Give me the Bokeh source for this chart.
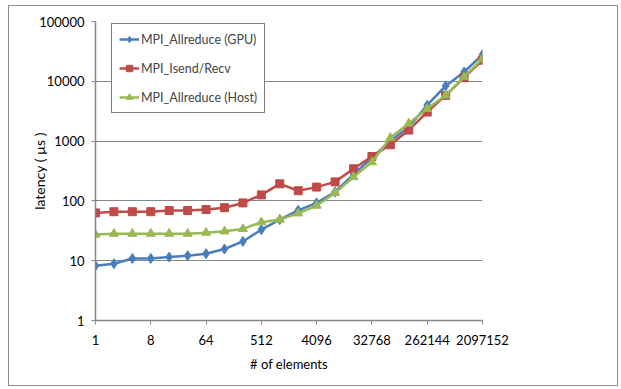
from bokeh.plotting import figure
from bokeh.embed import file_html
from bokeh.resources import INLINE
from bokeh.models import FixedTicker, Legend, LegendItem, ColumnDataSource

elements = [1, 2, 4, 8, 16, 32, 64, 128, 256, 512, 1024, 2048, 4096, 8192,
            16384, 32768, 65536, 131072, 262144, 524288, 1048576, 2097152]
gpu = [8.2, 8.9, 10.9, 10.9, 11.5, 12.1, 13.1, 15.7, 21, 33, 48.7, 69.5, 92.5, 141,
       277, 526, 1000, 1718, 3980, 8380, 14300, 28000]
isend = [63, 66, 66, 66, 69, 69, 71.6, 77, 92.5, 126, 193, 148, 170, 208,
         344, 553, 870, 1528, 3060, 5820, 11500, 22500]
host = [27.3, 28.3, 28.3, 28.3, 28.3, 28.3, 29.4, 31, 34, 44, 48.7, 62, 83.6, 136,
        251, 445, 1137, 1977, 3470, 5820, 11800, 24000]
x_ticks = [1, 8, 64, 512, 4096, 32768, 262144, 2097152]
y_ticks = [1, 10, 100, 1000, 10000, 100000]

FONT = "Lato"
GRAY = "#868686"

p = figure(width=610, height=381, x_axis_type="log", y_axis_type="log",
           x_range=(1, 2097152), y_range=(1, 100000),
           output_backend="svg", toolbar_location=None,
           min_border_left=86, min_border_right=137, min_border_top=15, min_border_bottom=67)
p.styles = {"border": "1px solid #8c8c8c", "margin-left": "8px", "margin-top": "5px"}
p.outline_line_color = None
p.background_fill_color = "white"
p.border_fill_color = "white"

p.xaxis.ticker = FixedTicker(ticks=x_ticks)
p.yaxis.ticker = FixedTicker(ticks=y_ticks)
p.xaxis.major_label_overrides = {t: str(t) for t in x_ticks}
p.yaxis.major_label_overrides = {t: str(t) for t in y_ticks}
for ax in (p.xaxis[0], p.yaxis[0]):
    ax.axis_line_color = GRAY
    ax.axis_line_width = 1.5
    ax.major_tick_line_color = GRAY
    ax.major_tick_in = 0
    ax.major_tick_out = 4
    ax.minor_tick_line_color = None
    ax.major_label_text_font = FONT
    ax.major_label_text_font_size = "13px"
    ax.major_label_text_color = "black"
    ax.axis_label_text_font = FONT
    ax.axis_label_text_font_style = "normal"
    ax.axis_label_text_color = "black"
p.xaxis.axis_label = "# of elements"
p.yaxis.axis_label = "latency ( µs )"
p.xaxis.axis_label_text_font_size = "13px"
p.yaxis.axis_label_text_font_size = "14px"
p.xaxis.major_label_standoff = 10
p.yaxis.major_label_standoff = 7
p.xaxis.axis_label_standoff = 8
p.yaxis.axis_label_standoff = -12

p.xgrid.grid_line_color = None
p.ygrid.grid_line_color = GRAY
p.ygrid.grid_line_width = 1.2

src = ColumnDataSource(dict(x=elements, gpu=gpu, isend=isend, host=host))

BLUE, RED, GREEN = "#4A7EBB", "#BE4B48", "#98B954"
l1 = p.line("x", "gpu", source=src, color=BLUE, line_width=2.5)
m1 = p.scatter("x", "gpu", source=src, marker="diamond", size=10, color=BLUE)
l2 = p.line("x", "isend", source=src, color=RED, line_width=2.5)
m2 = p.scatter("x", "isend", source=src, marker="square", size=8, color=RED)
l3 = p.line("x", "host", source=src, color=GREEN, line_width=2.5)
m3 = p.scatter("x", "host", source=src, marker="triangle", size=9, color=GREEN)

legend = Legend(items=[
    LegendItem(label="MPI_Allreduce (GPU)", renderers=[l1, m1]),
    LegendItem(label="MPI_Isend/Recv", renderers=[l2, m2]),
    LegendItem(label="MPI_Allreduce (Host)", renderers=[l3, m3]),
], location=(16, 207))
legend.label_text_font = FONT
legend.label_text_font_size = "12.5px"
legend.border_line_color = "black"
legend.border_line_width = 1
legend.background_fill_color = "white"
legend.background_fill_alpha = 1
legend.glyph_width = 20
legend.label_standoff = 2
legend.spacing = 13
legend.padding = 7
legend.margin = 0
legend.label_height = 16
legend.glyph_height = 16
p.add_layout(legend)

open("out.html", "w").write(file_html(p, INLINE))
